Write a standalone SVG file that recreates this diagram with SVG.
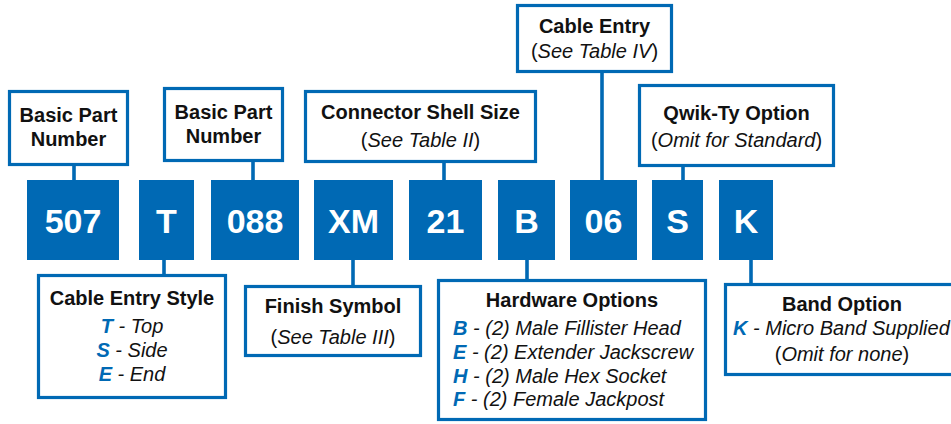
<svg xmlns="http://www.w3.org/2000/svg" width="951" height="424" viewBox="0 0 951 424">
<style>
.lbl{fill:#fff;stroke:#0069b4;stroke-width:3.2}
.code{fill:#0069b4}
.ct{font-family:"Liberation Sans",Arial,sans-serif;font-weight:bold;font-size:34px;fill:#fff;text-anchor:middle}
.h{font-family:"Liberation Sans",Arial,sans-serif;font-weight:bold;font-size:20px;fill:#111;text-anchor:middle}
.i{font-family:"Liberation Sans",Arial,sans-serif;font-style:italic;font-size:20px;fill:#111}
.n{font-style:normal}
.k{font-weight:bold;fill:#0069b4}
.c{text-anchor:middle}
#connectors line{stroke:#0069b4;stroke-width:3.6}
</style>
<rect width="951" height="424" fill="#fff"/>
<g id="connectors">
<line x1="74" y1="164" x2="74" y2="182"/>
<line x1="253" y1="160" x2="253" y2="182"/>
<line x1="444" y1="161" x2="444" y2="182"/>
<line x1="602" y1="71" x2="602" y2="182"/>
<line x1="683" y1="165" x2="683" y2="182"/>
<line x1="164" y1="258" x2="164" y2="277"/>
<line x1="353" y1="258" x2="353" y2="288"/>
<line x1="527" y1="258" x2="527" y2="282"/>
<line x1="751" y1="258" x2="751" y2="286"/>
</g>
<g id="code-507"><rect class="code" x="27" y="180" width="92" height="80"/><text class="ct" x="73" y="233">507</text></g>
<g id="code-T"><rect class="code" x="139" y="180" width="55" height="80"/><text class="ct" x="166.5" y="233">T</text></g>
<g id="code-088"><rect class="code" x="211" y="180" width="88" height="80"/><text class="ct" x="255" y="233">088</text></g>
<g id="code-XM"><rect class="code" x="314" y="180" width="79" height="80"/><text class="ct" x="353.5" y="233">XM</text></g>
<g id="code-21"><rect class="code" x="409" y="180" width="73" height="80"/><text class="ct" x="445.5" y="233">21</text></g>
<g id="code-B"><rect class="code" x="498" y="180" width="57" height="80"/><text class="ct" x="526.5" y="233">B</text></g>
<g id="code-06"><rect class="code" x="570" y="180" width="67" height="80"/><text class="ct" x="603.5" y="233">06</text></g>
<g id="code-S"><rect class="code" x="652" y="180" width="51" height="80"/><text class="ct" x="677.5" y="233">S</text></g>
<g id="code-K"><rect class="code" x="719" y="180" width="54" height="80"/><text class="ct" x="746" y="233">K</text></g>

<g id="basic-part-1"><rect class="lbl" x="9.5" y="91.5" width="118" height="73"/><text class="h" x="68.5" y="122">Basic Part</text><text class="h" x="68.5" y="146">Number</text></g>
<g id="basic-part-2"><rect class="lbl" x="164.5" y="88.5" width="118" height="72"/><text class="h" x="223.5" y="119">Basic Part</text><text class="h" x="223.5" y="143">Number</text></g>
<g id="shell-size"><rect class="lbl" x="305.5" y="91.5" width="230" height="70"/><text class="h" x="420.5" y="119">Connector Shell Size</text><text class="i c" x="420.5" y="147"><tspan class="n">(</tspan>See Table II<tspan class="n">)</tspan></text></g>
<g id="cable-entry"><rect class="lbl" x="517.5" y="5.5" width="154" height="66"/><text class="h" x="594.5" y="33">Cable Entry</text><text class="i c" x="594.5" y="58"><tspan class="n">(</tspan>See Table IV<tspan class="n">)</tspan></text></g>
<g id="qwik-ty"><rect class="lbl" x="639.5" y="85.5" width="194" height="80"/><text class="h" x="736.5" y="120">Qwik-Ty Option</text><text class="i c" x="736.5" y="147"><tspan class="n">(</tspan>Omit for Standard<tspan class="n">)</tspan></text></g>

<g id="cable-entry-style"><rect class="lbl" x="38.5" y="275.5" width="187" height="122"/><text class="h" x="132" y="305">Cable Entry Style</text>
<text class="i c" x="132" y="333"><tspan class="k">T</tspan> - Top</text>
<text class="i c" x="132" y="357"><tspan class="k">S</tspan> - Side</text>
<text class="i c" x="132" y="381"><tspan class="k">E</tspan> - End</text></g>
<g id="finish-symbol"><rect class="lbl" x="245.5" y="286.5" width="175" height="69"/><text class="h" x="333" y="313">Finish Symbol</text><text class="i c" x="333" y="344"><tspan class="n">(</tspan>See Table III<tspan class="n">)</tspan></text></g>
<g id="hardware-options"><rect class="lbl" x="438.5" y="280.5" width="267" height="139"/><text class="h" x="572" y="307">Hardware Options</text>
<text class="i" x="453" y="335"><tspan class="k">B</tspan> - (2) Male Fillister Head</text>
<text class="i" x="453" y="359"><tspan class="k">E</tspan> - (2) Extender Jackscrew</text>
<text class="i" x="453" y="383"><tspan class="k">H</tspan> - (2) Male Hex Socket</text>
<text class="i" x="453" y="406"><tspan class="k">F</tspan> - (2) Female Jackpost</text></g>
<g id="band-option"><rect class="lbl" x="725.5" y="284.5" width="240" height="90"/><text class="h" x="842" y="311">Band Option</text>
<text class="i" x="733" y="335"><tspan class="k">K</tspan> - Micro Band Supplied</text>
<text class="i c" x="842" y="361"><tspan class="n">(</tspan>Omit for none<tspan class="n">)</tspan></text></g>
</svg>
